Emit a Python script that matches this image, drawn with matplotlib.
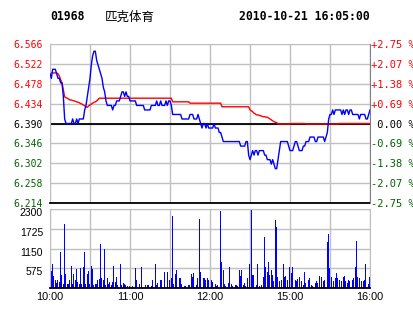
import matplotlib.pyplot as plt
from matplotlib.transforms import ScaledTranslation

# one value per minute: 10:00-12:00 and 14:30-16:00 (241 points)
price = [
    6.50, 6.49, 6.51, 6.51, 6.51, 6.50, 6.49, 6.49, 6.48, 6.48,
    6.45, 6.40, 6.39, 6.39, 6.39, 6.39, 6.39, 6.40, 6.39, 6.39,
    6.40, 6.39, 6.40, 6.40, 6.40, 6.40, 6.42, 6.43, 6.45, 6.47,
    6.49, 6.52, 6.54, 6.55, 6.55, 6.53, 6.52, 6.51, 6.50, 6.49,
    6.47, 6.46, 6.44, 6.43, 6.43, 6.43, 6.43, 6.42, 6.43, 6.43,
    6.44, 6.44, 6.44, 6.45, 6.46, 6.46, 6.45, 6.46, 6.45, 6.45,
    6.44, 6.44, 6.44, 6.44, 6.44, 6.43, 6.43, 6.43, 6.43, 6.43,
    6.43, 6.42, 6.42, 6.42, 6.42, 6.42, 6.43, 6.43, 6.43, 6.43,
    6.44, 6.43, 6.43, 6.44, 6.43, 6.43, 6.43, 6.44, 6.43, 6.44,
    6.44, 6.43, 6.41, 6.41, 6.41, 6.41, 6.41, 6.41, 6.41, 6.40,
    6.40, 6.40, 6.40, 6.40, 6.40, 6.41, 6.41, 6.41, 6.40, 6.40,
    6.40, 6.41, 6.40, 6.39, 6.38, 6.39, 6.39, 6.38, 6.39, 6.38,
    6.38, 6.38, 6.38, 6.39, 6.38, 6.38, 6.38, 6.37, 6.37, 6.36,
    6.35, 6.35, 6.35, 6.35, 6.35, 6.35, 6.35, 6.35, 6.35, 6.35,
    6.35, 6.35, 6.35, 6.34, 6.34, 6.34, 6.34, 6.35, 6.35, 6.32,
    6.31, 6.32, 6.33, 6.32, 6.33, 6.33, 6.32, 6.33, 6.33, 6.33,
    6.33, 6.32, 6.32, 6.31, 6.31, 6.31, 6.30, 6.31, 6.30, 6.29,
    6.29, 6.31, 6.33, 6.35, 6.35, 6.35, 6.35, 6.35, 6.35, 6.34,
    6.33, 6.33, 6.33, 6.34, 6.35, 6.35, 6.34, 6.33, 6.33, 6.33,
    6.34, 6.34, 6.35, 6.35, 6.35, 6.36, 6.36, 6.36, 6.36, 6.35,
    6.35, 6.36, 6.36, 6.36, 6.36, 6.36, 6.35, 6.36, 6.37, 6.40,
    6.41, 6.41, 6.42, 6.41, 6.42, 6.42, 6.42, 6.42, 6.42, 6.41,
    6.42, 6.41, 6.42, 6.42, 6.41, 6.42, 6.42, 6.41, 6.41, 6.41,
    6.41, 6.41, 6.40, 6.41, 6.41, 6.41, 6.41, 6.40, 6.40, 6.41, 6.42,
]

avg_price = [
    6.502, 6.502, 6.502, 6.502, 6.502, 6.502, 6.500, 6.495, 6.487, 6.480,
    6.465, 6.449, 6.447, 6.446, 6.444, 6.442, 6.442, 6.441, 6.440, 6.439,
    6.438, 6.437, 6.436, 6.434, 6.433, 6.431, 6.429, 6.427, 6.426, 6.429,
    6.431, 6.433, 6.435, 6.437, 6.438, 6.440, 6.443, 6.446, 6.446, 6.446,
    6.446, 6.446, 6.446, 6.446, 6.446, 6.446, 6.446, 6.446, 6.446, 6.446,
    6.446, 6.446, 6.446, 6.446, 6.446, 6.446, 6.446, 6.446, 6.446, 6.446,
    6.446, 6.446, 6.446, 6.446, 6.446, 6.446, 6.446, 6.446, 6.446, 6.446,
    6.446, 6.446, 6.446, 6.446, 6.446, 6.446, 6.446, 6.446, 6.446, 6.446,
    6.446, 6.446, 6.446, 6.446, 6.446, 6.446, 6.446, 6.446, 6.446, 6.446,
    6.446, 6.446, 6.438, 6.438, 6.438, 6.438, 6.438, 6.438, 6.438, 6.438,
    6.438, 6.438, 6.438, 6.438, 6.438, 6.435, 6.435, 6.435, 6.435, 6.435,
    6.435, 6.435, 6.435, 6.435, 6.435, 6.435, 6.435, 6.435, 6.435, 6.435,
    6.435, 6.435, 6.435, 6.435, 6.435, 6.435, 6.435, 6.435, 6.435, 6.427,
    6.427, 6.427, 6.427, 6.427, 6.427, 6.427, 6.427, 6.427, 6.427, 6.427,
    6.427, 6.427, 6.427, 6.427, 6.427, 6.427, 6.427, 6.427, 6.427, 6.427,
    6.420, 6.418, 6.416, 6.413, 6.411, 6.409, 6.409, 6.408, 6.407, 6.406,
    6.405, 6.405, 6.404, 6.404, 6.402, 6.400, 6.398, 6.396, 6.394, 6.393,
    6.392, 6.389, 6.389, 6.389, 6.389, 6.389, 6.389, 6.389, 6.389, 6.389,
    6.389, 6.390, 6.390, 6.390, 6.390, 6.390, 6.390, 6.390, 6.390, 6.390,
    6.390, 6.390, 6.389, 6.389, 6.389, 6.389, 6.389, 6.389, 6.389, 6.389,
    6.389, 6.389, 6.389, 6.389, 6.389, 6.389, 6.389, 6.389, 6.389, 6.389,
    6.389, 6.389, 6.389, 6.389, 6.389, 6.389, 6.389, 6.390, 6.390, 6.390,
    6.390, 6.390, 6.390, 6.390, 6.390, 6.390, 6.390, 6.390, 6.390, 6.390,
    6.390, 6.390, 6.390, 6.390, 6.390, 6.390, 6.390, 6.390, 6.390, 6.390, 6.390,
]

volume = [
    393, 494, 696, 350, 240, 140, 240, 180, 1050, 370,
    130, 1855, 400, 130, 110, 240, 645, 130, 400, 240,
    560, 180, 130, 590, 130, 600, 1050, 110, 400, 500,
    110, 650, 560, 90, 110, 110, 240, 250, 1270, 280,
    240, 1150, 90, 280, 110, 180, 90, 180, 650, 180,
    330, 90, 0, 700, 100, 140, 110, 100, 60, 0,
    60, 0, 60, 0, 590, 240, 0, 110, 0, 600,
    0, 0, 90, 90, 90, 0, 60, 240, 0, 690,
    90, 140, 0, 240, 240, 0, 470, 0, 470, 0,
    240, 280, 2100, 110, 400, 530, 0, 280, 300, 110,
    0, 60, 60, 0, 90, 90, 420, 330, 430, 0,
    90, 300, 2020, 480, 0, 280, 300, 240, 280, 240,
    0, 240, 180, 0, 110, 60, 90, 0, 2240, 766,
    530, 110, 60, 0, 140, 600, 110, 60, 0, 90,
    90, 60, 530, 350, 530, 90, 140, 60, 280, 0,
    700, 2280, 380, 380, 0, 90, 690, 60, 0, 90,
    330, 1480, 600, 470, 760, 380, 530, 380, 200, 1980,
    1790, 330, 200, 0, 240, 700, 330, 350, 240, 0,
    600, 430, 600, 0, 240, 200, 260, 330, 0, 200,
    90, 470, 140, 0, 240, 280, 90, 60, 0, 140,
    200, 140, 350, 0, 330, 210, 240, 0, 1350, 1570,
    590, 330, 0, 200, 300, 430, 280, 240, 0, 200,
    330, 350, 200, 140, 240, 200, 0, 240, 280, 600,
    1380, 330, 280, 0, 200, 200, 240, 690, 0, 110, 330,
]

prev_close = 6.39
price_ticks = [6.214, 6.258, 6.302, 6.346, 6.390, 6.434, 6.478, 6.522, 6.566]
price_labels = ['6.214', '6.258', '6.302', '6.346', '6.390', '6.434', '6.478', '6.522', '6.566']
pct_labels = ['-2.75 %', '-2.07 %', '-1.38 %', '-0.69 %', ' 0.00 %',
              '+0.69 %', '+1.38 %', '+2.07 %', '+2.75 %']
vol_ticks = [575, 1150, 1725, 2300]
vol_labels = ['575', '1150', '1725', '2300']
time_ticks = [0, 30, 60, 90, 120, 150, 180, 210, 240]
time_labels = ['10:00', '', '11:00', '', '12:00', '', '15:00', '', '16:00']

RED = '#ff0000'
GREEN = '#006400'
BLUE = '#0000ff'
GRID = '#c0c0c0'

def label_color(i):
    if i > 4:
        return RED
    if i == 4:
        return 'black'
    return GREEN

plt.rcParams['font.family'] = ['DejaVu Sans Mono']
fig = plt.figure(figsize=(4.14, 3.14), dpi=100)
W, H = 414, 314
ax = fig.add_axes([50 / W, 1 - 203 / H, 320 / W, 159 / H])
axv = fig.add_axes([50 / W, 1 - 288 / H, 320 / W, 79 / H])
shift = ScaledTranslation(0, -0.03, fig.dpi_scale_trans)

# price panel
minutes = list(range(len(price)))
ax.set_axisbelow(True)
ax.grid(color=GRID, lw=1)
ax.axhline(prev_close, color='black', lw=1.3, zorder=1.5)
ax.plot(minutes, price, color=BLUE, lw=1, zorder=3)
ax.plot(minutes, avg_price, color=RED, lw=1, zorder=2)
ax.set_xlim(0, 240)
ax.set_ylim(6.214, 6.566)
ax.set_xticks(time_ticks)
ax.set_xticklabels([])
ax.set_yticks(price_ticks)
ax.set_yticklabels(price_labels)
ax.tick_params(length=0, labelsize=7, pad=5)
for i, lab in enumerate(ax.get_yticklabels()):
    lab.set_color(label_color(i))
for s in ['top', 'left']:
    ax.spines[s].set_color(GRID)
ax.spines['right'].set_visible(False)
ax.spines['bottom'].set_color('black')
ax.spines['bottom'].set_linewidth(1.3)

ax2 = ax.twinx()
ax2.set_ylim(6.214, 6.566)
ax2.set_yticks(price_ticks)
ax2.set_yticklabels(pct_labels)
ax2.tick_params(length=0, labelsize=7.5, pad=1)
for i, lab in enumerate(ax2.get_yticklabels()):
    lab.set_color(label_color(i))
for s in ['top', 'left', 'bottom']:
    ax2.spines[s].set_visible(False)
ax2.spines['right'].set_color('#808080')

# volume panel
axv.set_axisbelow(True)
axv.grid(color=GRID, lw=1)
axv.bar(minutes, volume, width=0.75, color=BLUE, lw=0, antialiased=False, zorder=2)
axv.set_xlim(0, 240)
axv.set_ylim(0, 2300)
axv.set_yticks(vol_ticks)
axv.set_yticklabels(vol_labels)
axv.set_xticks(time_ticks)
axv.set_xticklabels(time_labels)
axv.tick_params(length=0, pad=5)
axv.tick_params(axis='y', labelsize=7.5)
axv.tick_params(axis='x', labelsize=7.8, pad=3)
for lab in axv.get_yticklabels() + axv.get_xticklabels():
    lab.set_fontfamily('Liberation Sans')
for lab in axv.get_yticklabels():
    lab.set_transform(lab.get_transform() + shift)
for s in ['top', 'left', 'right']:
    axv.spines[s].set_color(GRID)
axv.spines['bottom'].set_color('black')
axv.spines['bottom'].set_linewidth(1.3)

# header
fig.text(50 / W, 1 - 17 / H, '01968', fontsize=8.3, fontweight='bold', va='center')
fig.text(105 / W, 1 - 17 / H, '匹克体育', fontsize=9, va='center',
         family=['Noto Sans CJK SC', 'DejaVu Sans'])
fig.text(370 / W, 1 - 17 / H, '2010-10-21 16:05:00', fontsize=8.3,
         fontweight='bold', va='center', ha='right')

fig.savefig('out.png', dpi=100)
